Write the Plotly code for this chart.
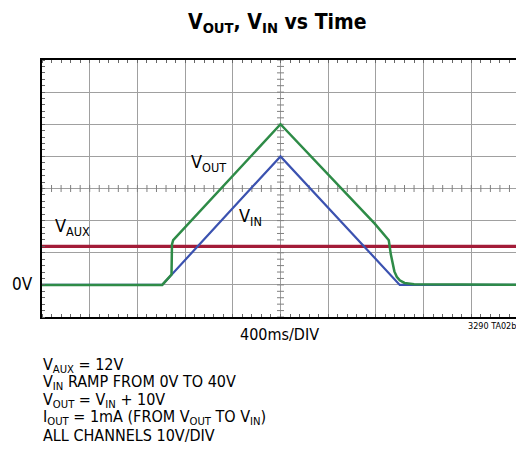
import plotly.graph_objects as go

# Time in ms (400 ms/DIV), voltages in V (10 V/DIV)
t_vin = [0, 1008, 2000, 3000, 4000]
v_vin = [0, 0, 40, 0, 0]

t_vout = [0, 1008, 1086, 1090, 1100, 2000, 2792, 2908, 2925, 2940, 2955, 2975, 3000, 3040, 3120, 4000]
v_vout = [0, 0, 3.2, 12.6, 13.9, 50, 19, 13.9, 9.5, 6.5, 4.2, 2.5, 1.4, 0.6, 0.2, 0]

t_vaux = [0, 4000]
v_vaux = [12, 12]

x_ticks = [0, 400, 800, 1200, 1600, 2000, 2400, 2800, 3200, 3600, 4000]
y_ticks = [-10, 0, 10, 20, 30, 40, 50, 60, 70]

center_x_ticks = [i * 80 for i in range(51)]
center_y_ticks = [-10 + i * 2 for i in range(41)]

GREEN = "#2e8b47"
BLUE = "#3b52b0"
RED = "#a31c38"
FONT = "Liberation Sans Narrow, DejaVu Sans Condensed, Arial Narrow, sans-serif"

# page offset of the default body margin (8px); keep page height within the window
OFF = 8
W, H = 524 - OFF, 436
L, R, T = 42 - OFF, 3, 60 - OFF
B = H - (317 - OFF)
PW, PH = W - L - R, H - T - B

def px(x):
    return (x - OFF - L) / PW

def py(y):
    return (H - B - (y - OFF)) / PH

fig = go.Figure()

# center graticule ticks
fig.add_trace(go.Scatter(x=center_x_ticks, y=[30] * len(center_x_ticks), mode="markers",
                         marker=dict(symbol="line-ns", size=5, line=dict(width=1, color="#808080")),
                         hoverinfo="skip", showlegend=False))
fig.add_trace(go.Scatter(x=[2000] * len(center_y_ticks), y=center_y_ticks, mode="markers",
                         marker=dict(symbol="line-ew", size=5, line=dict(width=1, color="#808080")),
                         hoverinfo="skip", showlegend=False))

fig.add_trace(go.Scatter(x=t_vaux, y=v_vaux, mode="lines", line=dict(color=RED, width=3.2),
                         showlegend=False))
fig.add_trace(go.Scatter(x=t_vin, y=v_vin, mode="lines", line=dict(color=BLUE, width=2.2),
                         showlegend=False))
fig.add_trace(go.Scatter(x=t_vout, y=v_vout, mode="lines", line=dict(color=GREEN, width=2.5),
                         showlegend=False))

axis_common = dict(showgrid=True, gridcolor="#a0a0a0", gridwidth=1, zeroline=False,
                   showline=True, linecolor="black", linewidth=2, mirror="ticks",
                   ticks="", showticklabels=False, fixedrange=True)

fig.update_xaxes(range=[0, 4000], tickvals=x_ticks,
                 minor=dict(dtick=80, ticks="inside", ticklen=3, tickcolor="#666", showgrid=False),
                 **axis_common)
fig.update_yaxes(range=[-10, 70], tickvals=y_ticks,
                 minor=dict(dtick=2, ticks="inside", ticklen=3, tickcolor="#666", showgrid=False),
                 **axis_common)

ann = []
def add(text, x, y, size, xanchor="center", yanchor="middle", bold=False):
    ann.append(dict(text=("<b>%s</b>" % text) if bold else text, x=px(x), y=py(y),
                    xref="paper", yref="paper", showarrow=False, xanchor=xanchor,
                    yanchor=yanchor, font=dict(family=FONT, size=size, color="black")))

add("V<sub>OUT</sub>, V<sub>IN</sub> vs Time", 278, 8, 21, yanchor="top", bold=True)
add("V<sub>OUT</sub>", 190, 163, 18, xanchor="left")
add("V<sub>IN</sub>", 238, 217, 18, xanchor="left")
add("V<sub>AUX</sub>", 53, 227, 18, xanchor="left")
add("0V", 10, 284, 17, xanchor="left")
add("400ms/DIV", 280, 334, 16)
add("3290 TA02b", 520, 326, 9, xanchor="right")

notes = ["V<sub>AUX</sub> = 12V",
         "V<sub>IN</sub> RAMP FROM 0V TO 40V",
         "V<sub>OUT</sub> = V<sub>IN</sub> + 10V",
         "I<sub>OUT</sub> = 1mA (FROM V<sub>OUT</sub> TO V<sub>IN</sub>)",
         "ALL CHANNELS 10V/DIV"]
for i, n in enumerate(notes):
    add(n, 41, 365 + i * 17.6, 16, xanchor="left")

fig.update_layout(
    width=W, height=H, margin=dict(l=L, r=R, t=T, b=B),
    paper_bgcolor="white", plot_bgcolor="white",
    annotations=ann,
)

fig.write_html("out.html")
